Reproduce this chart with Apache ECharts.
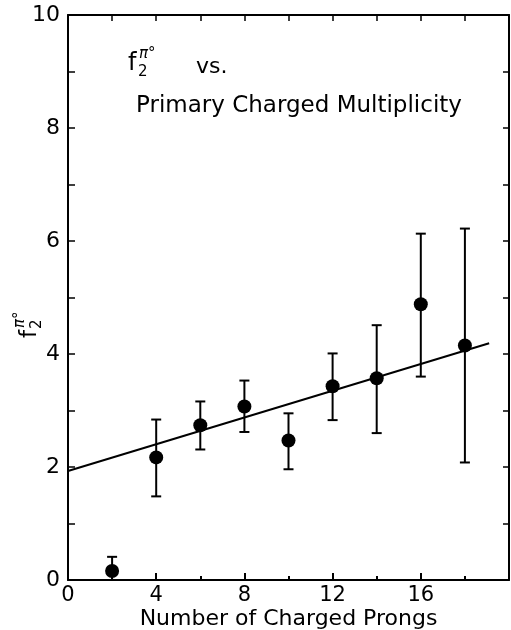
<!DOCTYPE html>
<html>
<head>
<meta charset="utf-8">
<script src="https://cdn.jsdelivr.net/npm/echarts@6/dist/echarts.min.js"></script>
<style>html,body{margin:0;padding:0;background:#fff;}#c{width:511px;height:630px;}</style>
</head>
<body>
<div id="c"></div>
<script>
// Data
const prongs   = [2, 4, 6, 8, 10, 12, 14, 16, 18];
const f2pi0    = [0.16, 2.17, 2.74, 3.07, 2.47, 3.43, 3.57, 4.88, 4.15];
const errHigh  = [0.41, 2.84, 3.16, 3.53, 2.95, 4.01, 4.51, 6.13, 6.22];
const errLow   = [0.00, 1.48, 2.31, 2.62, 1.96, 2.83, 2.60, 3.60, 2.08];
const fitX     = [0, 19.1];
const fitY     = [1.93, 4.19];
const xTicks   = [0, 4, 8, 12, 16];
const yTicks   = [0, 2, 4, 6, 8, 10];

const FONT = 'DejaVu Sans';
const chart = echarts.init(document.getElementById('c'), null, {renderer: 'canvas'});

const points = prongs.map((x, i) => [x, f2pi0[i]]);
const bars = prongs.map((x, i) => [x, errLow[i], errHigh[i]]);
const fit = fitX.map((x, i) => [x, fitY[i]]);

const axisLine = {show: true, onZero: false, lineStyle: {color: '#000', width: 2}};

chart.setOption({
  animation: false,
  backgroundColor: '#fff',
  grid: {left: 68, right: 2, top: 15, bottom: 50, containLabel: false, outerBoundsMode: 'none'},
  xAxis: [{
    type: 'value', min: 0, max: 20, interval: 4, position: 'bottom',
    axisLine: axisLine,
    axisTick: {show: true, inside: true, length: 7, lineStyle: {color: '#000', width: 2}},
    minorTick: {show: true, splitNumber: 2, length: 4, lineStyle: {color: '#000', width: 2}},
    splitLine: {show: false}, minorSplitLine: {show: false},
    axisLabel: {
      show: true, color: '#000', fontFamily: FONT, fontSize: 21, margin: 5,
      showMaxLabel: false,
      formatter: v => xTicks.includes(v) ? String(v) : ''
    },
    name: 'Number of Charged Prongs', nameLocation: 'middle', nameGap: 28,
    nameMoveOverlap: false,
    nameTextStyle: {color: '#000', fontFamily: FONT, fontSize: 22}
  }, {
    type: 'value', min: 0, max: 20, interval: 2, position: 'top',
    axisLine: axisLine,
    axisTick: {show: true, inside: true, length: 6, lineStyle: {color: '#000', width: 1.5}},
    axisLabel: {show: false}, splitLine: {show: false}
  }],
  yAxis: [{
    type: 'value', min: 0, max: 10, interval: 1, position: 'left',
    axisLine: axisLine,
    axisTick: {show: true, inside: true, length: 7, lineStyle: {color: '#000', width: 1.5}},
    splitLine: {show: false},
    axisLabel: {
      show: true, color: '#000', fontFamily: FONT, fontSize: 22, margin: 8,
      formatter: v => yTicks.includes(v) ? String(v) : ''
    }
  }, {
    type: 'value', min: 0, max: 10, interval: 1, position: 'right',
    axisLine: axisLine,
    axisTick: {show: true, inside: true, length: 6, lineStyle: {color: '#000', width: 1.5}},
    axisLabel: {show: false}, splitLine: {show: false}
  }],
  series: [{
    type: 'line', data: fit, xAxisIndex: 0, yAxisIndex: 0,
    showSymbol: false, symbol: 'none',
    lineStyle: {color: '#000', width: 2}, z: 2
  }, {
    type: 'custom', data: bars, xAxisIndex: 0, yAxisIndex: 0, z: 3,
    renderItem: function (params, api) {
      const x = api.value(0);
      const lo = api.coord([x, api.value(1)]);
      const hi = api.coord([x, api.value(2)]);
      const w = 5;
      const st = {stroke: '#000', lineWidth: 2};
      return {type: 'group', children: [
        {type: 'line', shape: {x1: lo[0], y1: lo[1], x2: hi[0], y2: hi[1]}, style: st},
        {type: 'line', shape: {x1: hi[0] - w, y1: hi[1], x2: hi[0] + w, y2: hi[1]}, style: st},
        {type: 'line', shape: {x1: lo[0] - w, y1: lo[1], x2: lo[0] + w, y2: lo[1]}, style: st}
      ]};
    }
  }, {
    type: 'scatter', data: points, xAxisIndex: 0, yAxisIndex: 0,
    symbol: 'circle', symbolSize: 14,
    itemStyle: {color: '#000', opacity: 1}, z: 4
  }],
  graphic: [
    // y-axis label f2^pi0 rotated
    {type: 'group', x: 30, y: 338, rotation: Math.PI / 2, children: [
      {type: 'text', x: 0, y: 0, style: {text: 'f', font: '23px ' + FONT, fill: '#000', textVerticalAlign: 'middle'}},
      {type: 'text', x: 9, y: 7, style: {text: '2', font: '15px ' + FONT, fill: '#000', textVerticalAlign: 'middle'}},
      {type: 'text', x: 10, y: -10, style: {text: 'π°', font: 'italic 15px ' + FONT, fill: '#000', textVerticalAlign: 'middle'}}
    ]},
    // annotation
    {type: 'group', x: 128, y: 64, children: [
      {type: 'text', x: 0, y: 0, style: {text: 'f', font: '24px ' + FONT, fill: '#000', textVerticalAlign: 'middle'}},
      {type: 'text', x: 10, y: 8, style: {text: '2', font: '15px ' + FONT, fill: '#000', textVerticalAlign: 'middle'}},
      {type: 'text', x: 11, y: -10, style: {text: 'π°', font: 'italic 15px ' + FONT, fill: '#000', textVerticalAlign: 'middle'}},
      {type: 'text', x: 68, y: 3, style: {text: 'vs.', font: '22px ' + FONT, fill: '#000', textVerticalAlign: 'middle'}}
    ]},
    {type: 'text', x: 136, y: 106, style: {text: 'Primary Charged Multiplicity', font: '23px ' + FONT, fill: '#000', textVerticalAlign: 'middle'}}
  ]
});
</script>
</body>
</html>
